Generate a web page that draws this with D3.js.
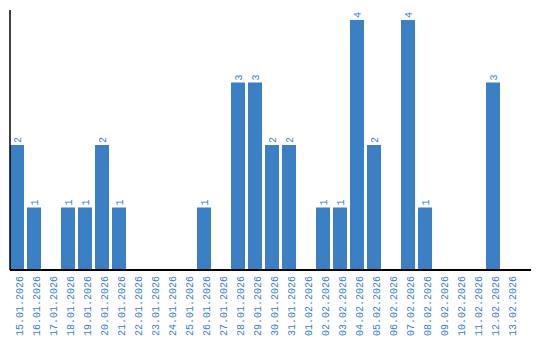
<!DOCTYPE html>
<html>
<head>
<meta charset="utf-8">
<script src="https://cdn.jsdelivr.net/npm/d3@7"></script>
<style>
  body { margin: 0; background: #fff; }
  text { font-family: "Liberation Mono", monospace; font-size: 10px; fill: #3a7fc3; }
</style>
</head>
<body>
<div id="chart"></div>
<script>
const dates = ["15.01.2026","16.01.2026","17.01.2026","18.01.2026","19.01.2026","20.01.2026",
  "21.01.2026","22.01.2026","23.01.2026","24.01.2026","25.01.2026","26.01.2026","27.01.2026",
  "28.01.2026","29.01.2026","30.01.2026","31.01.2026","01.02.2026","02.02.2026","03.02.2026",
  "04.02.2026","05.02.2026","06.02.2026","07.02.2026","08.02.2026","09.02.2026","10.02.2026",
  "11.02.2026","12.02.2026","13.02.2026"];
const counts = [2,1,0,1,1,2,1,0,0,0,0,1,0,3,3,2,2,0,1,1,4,2,0,4,1,0,0,0,3,0];

const width = 540, height = 340;
const margin = {left: 10, right: 531, top: 10, bottom: 270};
const barColor = "#3b7fc4";

const svg = d3.select("#chart").append("svg")
  .attr("width", width)
  .attr("height", height);

const x = d3.scaleBand()
  .domain(dates)
  .range([margin.left, margin.right])
  .paddingInner(0.15)
  .paddingOuter(0)
  .align(0)
  .round(true);

const y = d3.scaleLinear()
  .domain([0, d3.max(counts) * 1.04])
  .range([margin.bottom, margin.top]);

const data = dates.map((d, i) => ({date: d, value: counts[i]}));

// bars
svg.selectAll("rect.bar")
  .data(data.filter(d => d.value > 0))
  .enter().append("rect")
  .attr("class", "bar")
  .attr("x", d => x(d.date))
  .attr("y", d => y(d.value))
  .attr("width", x.bandwidth())
  .attr("height", d => y(0) - y(d.value))
  .attr("fill", barColor);

// value labels, rotated
svg.selectAll("text.val")
  .data(data.filter(d => d.value > 0))
  .enter().append("text")
  .attr("class", "val")
  .attr("transform", d => "translate(" + (x(d.date) + x.bandwidth() / 2) + "," + (y(d.value) - 2) + ") rotate(-90)")
  .attr("dy", "0.35em")
  .attr("text-anchor", "start")
  .text(d => d.value);

// x axis
const xAxis = svg.append("g")
  .attr("transform", "translate(0," + margin.bottom + ")")
  .call(d3.axisBottom(x).tickSize(0).tickPadding(0));
xAxis.select(".domain").attr("stroke", "#000").attr("stroke-width", 2).attr("d", "M" + margin.left + ",0H" + margin.right);
xAxis.selectAll(".tick text")
  .attr("transform", "translate(2,6) rotate(-90)")
  .attr("text-anchor", "end")
  .attr("x", 0).attr("y", 0)
  .attr("dy", "0.35em")
  .style("font-family", "Liberation Mono")
  .style("font-size", "10px")
  .attr("fill", "#3a7fc3");

// y axis line only
svg.append("line")
  .attr("x1", margin.left).attr("x2", margin.left)
  .attr("y1", margin.top).attr("y2", margin.bottom)
  .attr("stroke", "#000")
  .attr("stroke-width", 1.5);
</script>
</body>
</html>
